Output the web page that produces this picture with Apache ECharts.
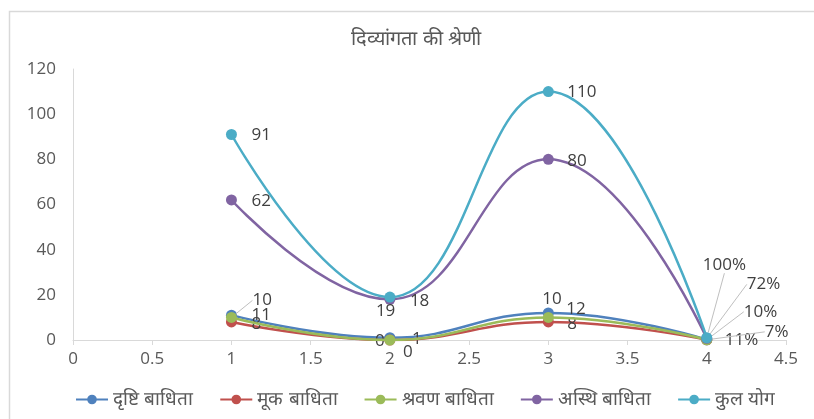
<!DOCTYPE html>
<html>
<head>
<meta charset="utf-8">
<script src="https://cdn.jsdelivr.net/npm/echarts@6/dist/echarts.min.js"></script>
<style>
  html, body { margin: 0; padding: 0; background: #fff; }
  #chart { width: 814px; height: 419px; }
</style>
</head>
<body>
<div id="chart"></div>
<script>
// Category positions on the horizontal value axis
const xValues = [1, 2, 3, 4];

// Series names
const seriesNames = ['दृष्टि बाधिता', 'मूक बाधिता', 'श्रवण बाधिता', 'अस्थि बाधिता', 'कुल योग'];

// Values per series (the last point of each is a share, shown as percent)
const drishti = [11, 1, 12, 0.11];
const mook = [8, 0, 8, 0.07];
const shravan = [10, 0, 10, 0.10];
const asthi = [62, 18, 80, 0.72];
const kulYog = [91, 19, 110, 1.00];

const seriesValues = [drishti, mook, shravan, asthi, kulYog];
const colors = ['#4F81BD', '#C0504D', '#9BBB59', '#8064A2', '#4BACC6'];

// Label offsets (dx, dy from the marker centre) and whether a guide line is drawn
const labelOffsets = [
  [[20, 0, false], [22, 1, false], [18, -4, false], [18, 0, false]],
  [[20, 2, false], [-15, 1, false], [19, 2, false], [58, -8, true]],
  [[21, -17, true], [13, 12, false], [-6, -18, false], [37, -28, true]],
  [[20, 1, false], [20, 2, false], [19, 2, false], [40, -54, true]],
  [[20, 1, false], [-14, 14, false], [19, 1, false], [-4, -73, true]]
];

const numFont = 'Open Sans, Liberation Sans, sans-serif';

function fmt(x, v) {
  return x === 4 ? Math.round(v * 100) + '%' : String(v);
}

const series = seriesValues.map((vals, si) => ({
  name: seriesNames[si],
  type: 'line',
  smooth: 0.45,
  symbol: 'circle',
  symbolSize: 11,
  color: colors[si],
  lineStyle: { width: 2.5, color: colors[si] },
  itemStyle: { color: colors[si] },
  data: vals.map((v, i) => ({
    value: [xValues[i], v],
    labelLine: { show: labelOffsets[si][i][2] }
  })),
  label: {
    show: true,
    position: 'right',
    fontSize: 17,
    fontFamily: numFont,
    color: '#404040',
    formatter: p => fmt(p.value[0], p.value[1])
  },
  labelLine: {
    show: false,
    lineStyle: { color: '#bfbfbf', width: 1 }
  },
  labelLayout: p => {
    const off = labelOffsets[si][p.dataIndex];
    const cx = p.rect.x + p.rect.width / 2;
    const cy = p.rect.y + p.rect.height / 2;
    return {
      x: cx + off[0],
      y: cy + off[1],
      align: 'left',
      verticalAlign: 'middle'
    };
  },
  z: 2 + si
}));

const chart = echarts.init(document.getElementById('chart'), null, { renderer: 'canvas' });
chart.setOption({
  animation: false,
  backgroundColor: '#fff',
  title: {
    text: 'दिव्यांगता की श्रेणी',
    left: 346,
    top: 24,
    textStyle: { fontSize: 20, fontWeight: 'normal', color: '#595959' }
  },
  graphic: [{
    type: 'rect',
    shape: { x: 9.5, y: 11.5, width: 900, height: 600 },
    style: { fill: 'none', stroke: '#d9d9d9', lineWidth: 1.5 },
    silent: true,
    z: -1
  }],
  legend: {
    bottom: 5,
    left: 70,
    itemWidth: 32,
    itemHeight: 12,
    itemGap: 26,
    textStyle: { fontSize: 19, color: '#595959' },
    data: seriesNames
  },
  grid: { left: 73, right: 28, top: 69, bottom: 79 },
  xAxis: {
    type: 'value',
    min: 0,
    max: 4.5,
    interval: 0.5,
    splitLine: { show: false },
    axisLine: { show: true, lineStyle: { color: '#d9d9d9' } },
    axisTick: { show: true, inside: false, length: 5, lineStyle: { color: '#d9d9d9' } },
    axisLabel: { fontSize: 17, color: '#595959', margin: 11, fontFamily: numFont }
  },
  yAxis: {
    type: 'value',
    min: 0,
    max: 120,
    interval: 20,
    splitLine: { show: false },
    axisLine: { show: true, lineStyle: { color: '#d9d9d9' } },
    axisTick: { show: false },
    axisLabel: { fontSize: 17, color: '#595959', margin: 17, fontFamily: numFont }
  },
  series: series
});
</script>
</body>
</html>
